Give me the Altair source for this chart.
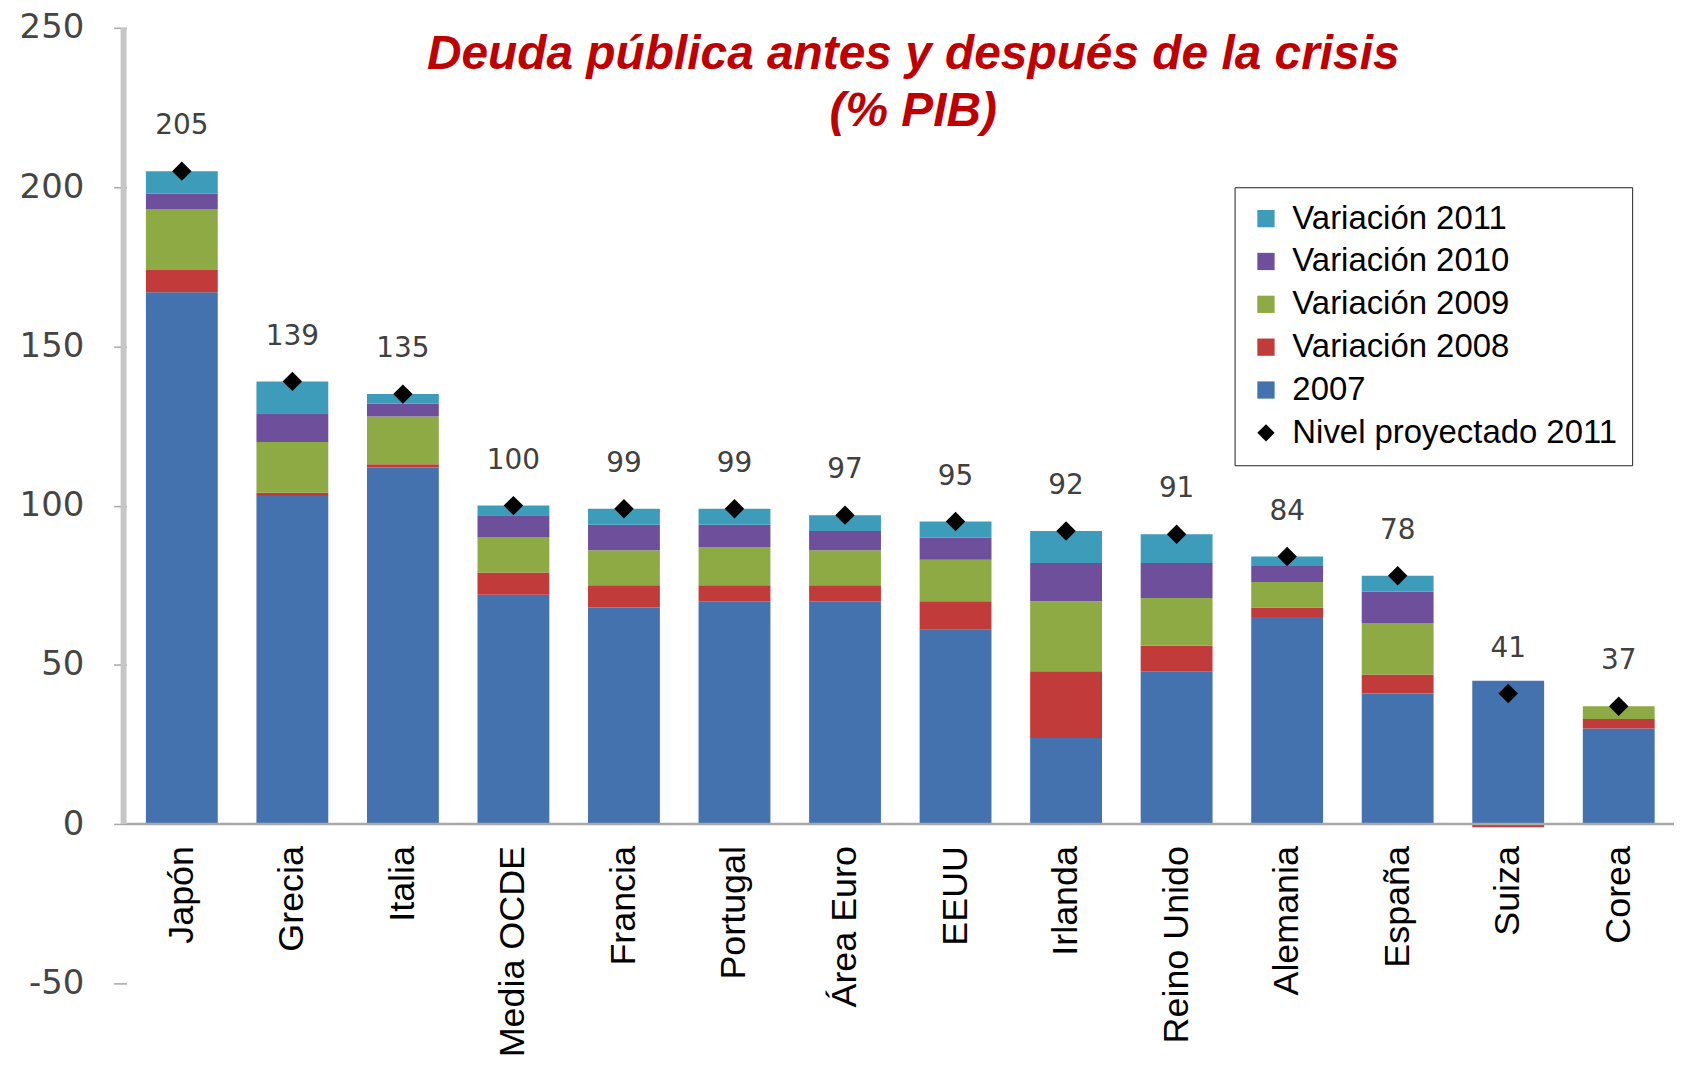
import altair as alt
import pandas as pd

paises = ["Japón", "Grecia", "Italia", "Media OCDE", "Francia", "Portugal", "Área Euro",
          "EEUU", "Irlanda", "Reino Unido", "Alemania", "España", "Suiza", "Corea"]
d2007 = [167, 103, 112, 72, 68, 70, 70, 61, 27, 48, 65, 41, 45, 30]
v2008 = [7, 1, 1, 7, 7, 5, 5, 9, 21, 8, 3, 6, -1, 3]
v2009 = [19, 16, 15, 11, 11, 12, 11, 13, 22, 15, 8, 16, 0, 4]
v2010 = [5, 9, 4, 7, 8, 7, 6, 7, 12, 11, 5, 10, 0, 0]
v2011 = [7, 10, 3, 3, 5, 5, 5, 5, 10, 9, 3, 5, 0, 0]
proyectado = [205, 139, 135, 100, 99, 99, 97, 95, 92, 91, 84, 78, 41, 37]

series = ["2007", "Variación 2008", "Variación 2009", "Variación 2010", "Variación 2011"]
valores = [d2007, v2008, v2009, v2010, v2011]
leyenda = ["Variación 2011", "Variación 2010", "Variación 2009", "Variación 2008", "2007",
           "Nivel proyectado 2011"]
colores = ["#3E9CBB", "#6E4F9B", "#8DAA45", "#C23B3B", "#4472AE", "#000000"]
formas = ["square", "square", "square", "square", "square", "diamond"]
ticks_y = [-50, 0, 50, 100, 150, 200, 250]

rows = []
for i, p in enumerate(paises):
    for k, (s, v) in enumerate(zip(series, valores)):
        rows.append({"pais": p, "serie": s, "valor": v[i], "orden": k})
barras_df = pd.DataFrame(rows)
puntos_df = pd.DataFrame({"pais": paises, "valor": proyectado,
                          "serie": "Nivel proyectado 2011", "cero": 0})
eje_df = pd.DataFrame({"y0": [0], "y1": [250], "cero": [0]})

W, H = 1553, 959

xs = alt.X("pais:N", sort=paises, axis=None,
           scale=alt.Scale(paddingInner=0.35, paddingOuter=0.175))


def yenc(field, **kw):
    return alt.Y(field, scale=alt.Scale(domain=[-50, 250], nice=False, zero=False),
                 axis=alt.Axis(values=ticks_y, domain=False, grid=False, tickSize=13,
                               tickColor="#a8a8a8", tickWidth=1.5,
                               labelFont="DejaVu Sans", labelFontSize=34,
                               labelColor="#454545", labelPadding=30, title=None,
                               labelExpr="datum.value + ''"),
                 **kw)


leg = alt.Legend(title=None, orient="none", legendX=1112, legendY=160,
                 symbolSize=300, labelFont="Liberation Sans", labelFontSize=33,
                 labelColor="black", rowPadding=9, padding=15, strokeColor="#222222",
                 labelOffset=10, labelLimit=600, symbolStrokeWidth=0, fillColor="white")

color = alt.Color("serie:N", scale=alt.Scale(domain=leyenda, range=colores), legend=leg)
shape = alt.Shape("serie:N", scale=alt.Scale(domain=leyenda, range=formas), legend=leg)

bars = alt.Chart(barras_df).mark_bar().encode(
    x=xs, y=yenc("valor:Q", stack="zero"), color=color, order=alt.Order("orden:Q"))

zero_line = alt.Chart(eje_df).mark_rule(color="#a8a8a8", strokeWidth=2.5).encode(
    y=yenc("cero:Q"))

axis_line = alt.Chart(eje_df).mark_rule(color="#c6c6c6", strokeWidth=6).encode(
    x=alt.value(-3), y=yenc("y0:Q"), y2="y1:Q")

points = alt.Chart(puntos_df).mark_point(filled=True, size=380, opacity=1).encode(
    x=xs, y=yenc("valor:Q"), color=color, shape=shape)

value_labels = alt.Chart(puntos_df).mark_text(
    dy=-45, font="DejaVu Sans", fontSize=28, color="#404040").encode(
    x=xs, y=yenc("valor:Q"), text="valor:Q")

x_labels = alt.Chart(puntos_df).mark_text(
    angle=270, align="right", baseline="middle", dx=-22,
    font="Liberation Sans", fontSize=36, color="black").encode(
    x=xs, y=yenc("cero:Q"), text="pais:N")

chart = alt.layer(bars, zero_line, axis_line, points, value_labels, x_labels).properties(
    width=W, height=H,
    autosize=alt.AutoSizeParams(type="none"),
    padding={"left": 119, "top": 18, "right": 0, "bottom": 74},
    background="white",
    title=alt.TitleParams(
        ["Deuda pública antes y después de la crisis", "(% PIB)"],
        font="Liberation Sans", fontSize=48, fontStyle="italic", fontWeight="bold",
        color="#C00000", anchor="middle", lineHeight=58, baseline="top",
        offset=0, dy=126, dx=13),
).configure_view(stroke=None)

chart.save("out.html", embed_options={"renderer": "svg", "actions": False})
